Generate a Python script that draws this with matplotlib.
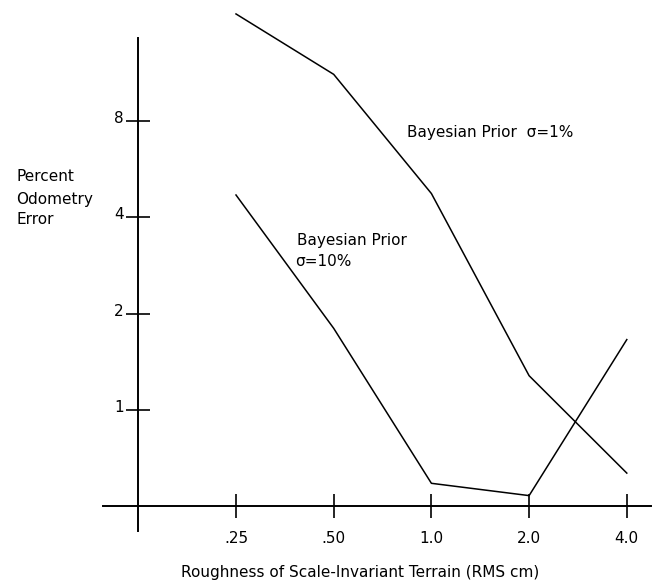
import matplotlib

matplotlib.use("Agg")
import matplotlib.pyplot as plt
import matplotlib.transforms as mtransforms
from matplotlib.ticker import FixedLocator, NullLocator

plt.rcParams["font.family"] = ["DejaVu Sans"]

# roughness categories (equally spaced, log2 steps)
roughness_labels = [".25", ".50", "1.0", "2.0", "4.0"]
x_pos = [0, 1, 2, 3, 4]

# percent odometry error
err_prior_1 = [17.3, 11.2, 4.75, 1.28, 0.635]
err_prior_10 = [4.7, 1.8, 0.59, 0.54, 1.66]

y_ticks = [1, 2, 4, 8]

W, H = 657, 586
FS = 11
fig = plt.figure(figsize=(W / 100, H / 100), dpi=100)
ax = fig.add_axes([0, 0, 1, 1])
ax.set_yscale("log", base=2)

# map pixel frame onto data: x index 0 at px 236, 97.7 px per step;
# y=1 at px 410, 96.3 px per doubling
ax.set_xlim((0 - 236) / 97.7, (W - 236) / 97.7)
ax.set_ylim(2 ** ((410 - H) / 96.3), 2 ** (410 / 96.3))

ax.plot(x_pos, err_prior_1, color="black", lw=1.1)
ax.plot(x_pos, err_prior_10, color="black", lw=1.1)

for side in ["top", "right"]:
    ax.spines[side].set_visible(False)
ax.spines["left"].set_position(("data", -1))
ax.spines["bottom"].set_position(("data", 0.5))
ax.spines["left"].set_bounds(2 ** ((410 - 531) / 96.3), 2 ** ((410 - 38) / 96.3))
ax.spines["bottom"].set_bounds((103 - 236) / 97.7, (651 - 236) / 97.7)
ax.spines["left"].set_linewidth(1.4)
ax.spines["bottom"].set_linewidth(1.4)

ax.xaxis.set_major_locator(FixedLocator(x_pos))
ax.set_xticklabels(roughness_labels)
ax.yaxis.set_major_locator(FixedLocator(y_ticks))
ax.yaxis.set_minor_locator(NullLocator())
ax.set_yticklabels([str(v) for v in y_ticks])
ax.tick_params(axis="both", direction="inout", length=17, width=1.2,
               labelsize=FS, color="black")
ax.tick_params(axis="x", pad=9)
ax.tick_params(axis="y", pad=2)
ax.patch.set_visible(False)

# y labels sit just above their tick, like the original
lift = mtransforms.ScaledTranslation(0, 4 / 100, fig.dpi_scale_trans)
for lab in ax.get_yticklabels():
    lab.set_transform(lab.get_transform() + lift)


def ftext(px, py, s, **kw):
    fig.text(px / W, 1 - py / H, s, fontsize=FS, **kw)


ftext(407, 132, "Bayesian Prior  \u03c3=1%", va="center")
ftext(297, 240, "Bayesian Prior", va="center")
ftext(295, 261, "\u03c3=10%", va="center")
ftext(16, 177, "Percent", va="center")
ftext(16, 199, "Odometry", va="center")
ftext(16, 220, "Error", va="center")
ftext(360, 573, "Roughness of Scale-Invariant Terrain (RMS cm)", va="center", ha="center")

fig.savefig("out.png", dpi=100, facecolor="white")
